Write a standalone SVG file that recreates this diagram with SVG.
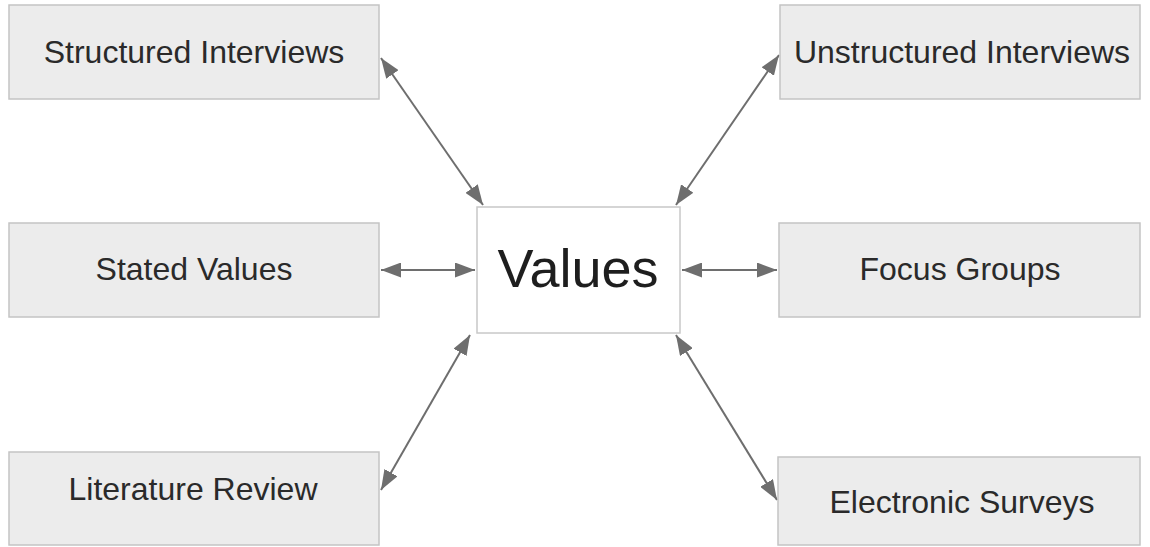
<svg xmlns="http://www.w3.org/2000/svg" width="1150" height="547" viewBox="0 0 1150 547">
<style>
.box{fill:#ececec;stroke:#c4c4c4;stroke-width:1.5}
.center{fill:#ffffff;stroke:#c8c8c8;stroke-width:1.5}
.lbl{font-family:"Liberation Sans",Arial,sans-serif;font-size:32px;fill:#2a2a2a;text-anchor:middle}
.big{font-family:"Liberation Sans",Arial,sans-serif;font-size:54px;fill:#1e1e1e;text-anchor:middle}
.conn{stroke:#6e6e6e;stroke-width:2;fill:none;marker-start:url(#ah);marker-end:url(#ah)}
</style>
<defs>
<marker id="ah" viewBox="0 0 10 10" refX="10" refY="5" markerWidth="10" markerHeight="7.5" markerUnits="strokeWidth" orient="auto-start-reverse" preserveAspectRatio="none">
<path d="M0,0 L10,5 L0,10 Z" fill="#6e6e6e"/>
</marker>
</defs>
<rect width="1150" height="547" fill="#ffffff"/>
<g id="connectors">
<line class="conn" x1="381" y1="58" x2="483" y2="205"/>
<line class="conn" x1="779" y1="55" x2="676" y2="205"/>
<line class="conn" x1="381" y1="270" x2="475" y2="270"/>
<line class="conn" x1="682" y1="270" x2="777" y2="270"/>
<line class="conn" x1="470" y1="335" x2="381" y2="490"/>
<line class="conn" x1="676" y1="335" x2="777" y2="500"/>
</g>
<g id="structured">
<rect class="box" x="9" y="5" width="370" height="94"/>
<text class="lbl" x="194" y="63">Structured Interviews</text>
</g>
<g id="unstructured">
<rect class="box" x="780" y="5" width="360" height="94"/>
<text class="lbl" x="962" y="63">Unstructured Interviews</text>
</g>
<g id="stated">
<rect class="box" x="9" y="223" width="370" height="94"/>
<text class="lbl" x="194" y="280">Stated Values</text>
</g>
<g id="focus">
<rect class="box" x="779" y="223" width="361" height="94"/>
<text class="lbl" x="960" y="280">Focus Groups</text>
</g>
<g id="values">
<rect class="center" x="477" y="207" width="203" height="126"/>
<text class="big" x="578" y="287">Values</text>
</g>
<g id="literature">
<rect class="box" x="9" y="452" width="370" height="93"/>
<text class="lbl" x="193" y="500">Literature Review</text>
</g>
<g id="electronic">
<rect class="box" x="778" y="457" width="362" height="88"/>
<text class="lbl" x="962" y="513">Electronic Surveys</text>
</g>
</svg>
